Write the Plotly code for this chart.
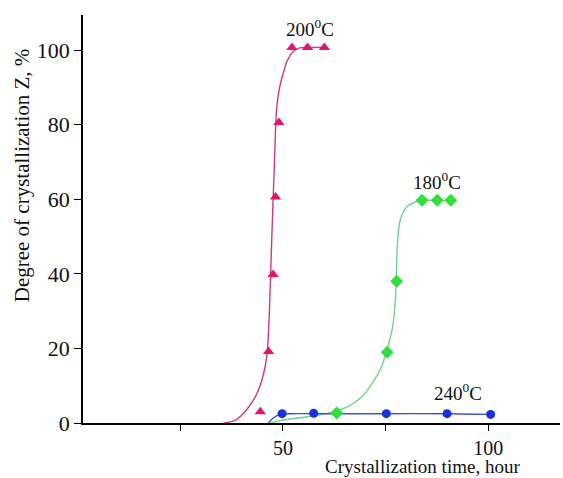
import plotly.graph_objects as go

# Fitted kinetic curves (smooth lines) for each crystallization temperature
c200_x = [35.5, 38.5, 41.2, 43.5, 45.0, 46.1, 46.7, 47.3, 47.9, 48.5, 49.2, 50.0, 51.0, 52.4, 54.0, 57.0, 60.1]
c200_y = [0.0, 0.8, 3.6, 7.5, 12.0, 18.0, 30.0, 50.0, 68.8, 84.8, 90.0, 93.5, 97.0, 99.5, 100.6, 100.7, 100.7]

c180_x = [47.0, 50.0, 54.2, 58.0, 62.3, 66.0, 69.7, 73.7, 76.6, 77.4, 77.7, 77.9, 78.6, 80.2, 82.7, 84.5, 87.6, 90.9]
c180_y = [0.0, 0.8, 1.4, 2.0, 2.9, 4.5, 7.6, 14.3, 25.0, 33.0, 42.0, 48.2, 54.5, 58.0, 59.4, 59.7, 59.7, 59.7]

c240_x = [46.5, 47.5, 49.3, 52.0, 57.5, 75.2, 90.0, 100.6]
c240_y = [0.0, 1.2, 2.3, 2.5, 2.5, 2.5, 2.5, 2.3]

# Measured points
p200_x = [44.5, 46.5, 47.6, 48.2, 49.0, 52.2, 56.0, 60.1]
p200_y = [3.0, 19.2, 39.8, 60.6, 80.6, 100.7, 100.7, 100.7]

p180_x = [63.1, 75.4, 77.7, 83.9, 87.6, 90.9]
p180_y = [2.7, 19.0, 38.0, 59.7, 59.7, 59.7]

p240_x = [49.8, 57.5, 75.2, 90.0, 100.6]
p240_y = [2.5, 2.6, 2.5, 2.5, 2.3]

x_tickvals = [25, 50, 75, 100]
x_ticktext = ["", "50", "", "100"]
y_tickvals = [0, 20, 40, 60, 80, 100]

FONT = "Liberation Serif"

fig = go.Figure()

fig.add_trace(go.Scatter(x=c200_x, y=c200_y, mode="lines",
                         line=dict(color="#cc3a80", width=1.4, shape="spline", smoothing=0.8),
                         hoverinfo="skip"))
fig.add_trace(go.Scatter(x=c180_x, y=c180_y, mode="lines",
                         line=dict(color="#6fd68c", width=1.4, shape="spline", smoothing=0.8),
                         hoverinfo="skip"))
fig.add_trace(go.Scatter(x=c240_x, y=c240_y, mode="lines",
                         line=dict(color="#3d50d0", width=1.4, shape="spline", smoothing=0.8),
                         hoverinfo="skip"))

fig.add_trace(go.Scatter(x=p200_x, y=p200_y, mode="markers", cliponaxis=False,
                         marker=dict(symbol="triangle-up", size=10, color="#e5156e")))
fig.add_trace(go.Scatter(x=p180_x, y=p180_y, mode="markers", cliponaxis=False,
                         marker=dict(symbol="diamond", size=10, color="#2fe03a")))
fig.add_trace(go.Scatter(x=p240_x, y=p240_y, mode="markers", cliponaxis=False,
                         marker=dict(symbol="circle", size=9, color="#1531e0")))

labels = [("200<sup>0</sup>C", 56.7, 106.0), ("180<sup>0</sup>C", 87.6, 64.8), ("240<sup>0</sup>C", 92.7, 8.3)]
for txt, lx, ly in labels:
    fig.add_annotation(x=lx, y=ly, text=txt, showarrow=False,
                       font=dict(family=FONT, size=19, color="#111111"))

# Axis titles
fig.add_annotation(xref="paper", yref="paper", x=-0.128, y=0.607, text="Degree of crystallization Z, %",
                   textangle=-90, showarrow=False, xanchor="center", yanchor="middle",
                   font=dict(family=FONT, size=21, color="#111111"))
fig.add_annotation(xref="paper", yref="paper", x=0.711, y=-0.107, text="Crystallization time, hour",
                   showarrow=False, xanchor="center", yanchor="middle", borderpad=0,
                   font=dict(family=FONT, size=19, color="#111111"))

fig.update_layout(
    width=563, height=478,
    margin=dict(l=83, r=3, t=15, b=55),
    paper_bgcolor="white", plot_bgcolor="white",
    showlegend=False,
    font=dict(family=FONT, size=22, color="#111111"),
)
fig.update_xaxes(range=[1.3, 117.5], showgrid=False, zeroline=False,
                 showline=True, linecolor="black", linewidth=1.5,
                 ticks="outside", ticklen=6, tickwidth=1.2, tickcolor="black",
                 tickvals=x_tickvals, ticktext=x_ticktext, tickfont=dict(size=20))
fig.update_yaxes(range=[0, 109.4], showgrid=False, zeroline=False,
                 showline=True, linecolor="black", linewidth=1.5,
                 ticks="outside", ticklen=7, tickwidth=1.2, tickcolor="black",
                 tickvals=y_tickvals)

fig.write_html("out.html")
